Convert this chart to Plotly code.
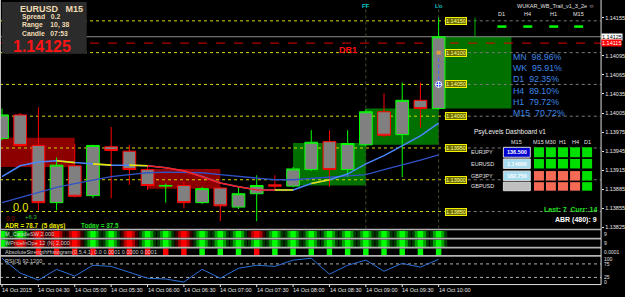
import plotly.graph_objects as go

W, H = 625, 297
CHART_R = 603                     # px, right edge of chart area
X_MIN, X_MAX = -0.1096, 32.93     # bar-index range shown
P_TOP, P_BOT = 1.141828, 1.138234 # price range of main pane

def px(x): return x / W
def py(y): return 1 - y / H

FONT = "Liberation Sans"

# ---------------- data ----------------
bars = list(range(25))  # M15 bars 04:00 .. 10:00
opens  = [1.13965, 1.14002, 1.13954, 1.13864, 1.13922, 1.13875, 1.13952, 1.13945, 1.13916, 1.13890,
          1.13891, 1.13864, 1.13887, 1.13857, 1.13878, 1.13892, 1.13890, 1.13916, 1.13960, 1.13916,
          1.13955, 1.14007, 1.13971, 1.14025, 1.14012]
highs  = [1.14012, 1.14005, 1.14014, 1.13935, 1.13956, 1.13955, 1.13983, 1.13955, 1.13922, 1.13894,
          1.13897, 1.13889, 1.13889, 1.13889, 1.13907, 1.13907, 1.13920, 1.13978, 1.13978, 1.13978,
          1.14011, 1.14036, 1.14053, 1.14053, 1.14155]
lows   = [1.13962, 1.13952, 1.13852, 1.13852, 1.13872, 1.13871, 1.13871, 1.13892, 1.13884, 1.13864,
          1.13855, 1.13862, 1.13835, 1.13854, 1.13835, 1.13885, 1.13888, 1.13914, 1.13889, 1.13904,
          1.13952, 1.13967, 1.13904, 1.13982, 1.14010]
closes = [1.14002, 1.13954, 1.13864, 1.13923, 1.13874, 1.13954, 1.13946, 1.13916, 1.13891, 1.13891,
          1.13864, 1.13886, 1.13859, 1.13878, 1.13891, 1.13890, 1.13917, 1.13959, 1.13916, 1.13957,
          1.14007, 1.13970, 1.14025, 1.14012, 1.14125]

fast_ma = [1.13905, 1.13922, 1.13928, 1.13930, 1.13927, 1.13925, 1.13923, 1.13923, 1.13922, 1.13919,
           1.13914, 1.13905, 1.13895, 1.13889, 1.13884, 1.13884, 1.13884, 1.13894, 1.13900, 1.13909,
           1.13925, 1.13938, 1.13953, 1.13969, 1.13989]
slow_ma = [1.13864, 1.13872, 1.13880, 1.13888, 1.13894, 1.13900, 1.13905, 1.13908, 1.13911, 1.13912,
           1.13912, 1.13911, 1.13908, 1.13905, 1.13902, 1.13900, 1.13900, 1.13902, 1.13903, 1.13905,
           1.13908, 1.13916, 1.13923, 1.13931, 1.13939]
red_seg = (8, 15)
yellow_segs = [(3, 4), (5, 6), (7, 8), (15, 16), (17, 18)]

rsi = [96, 41, 15, 55, 30, 70, 66, 44, 22, 19, 8, 55, 22, 59, 70, 66, 89, 96, 37, 70, 89, 48, 77, 63, 92.12]
rsi_levels = [75, 25]

candle_sw    = [1, 1, -1, -1, -1, 1, 1, -1, 1, 1, -1, 1, 1, 1, -1, 1, 1, 1, 1, 1, 1, 1, 1, 1, 1]
wprice       = [1, -1, -1, -1, -1, 1, 1, -1, 1, 1, -1, 1, 1, 1, 1, 1, 1, 1, 1, 1, 1, 1, 1, 1, 1]
abs_strength = [0, 0, -1, -1, -1, -1, -1, -1, -1, -1, -1, 1, 1, 1, -1, 1, 1, 1, 1, 1, 1, 1, 1, 1, 1]

level_prices = [1.14150, 1.14100, 1.14050, 1.14000, 1.13950, 1.13900, 1.13850]
price_ticks = [1.14155, 1.14095, 1.14065, 1.14035, 1.14005, 1.13975, 1.13945,
               1.13915, 1.13885, 1.13855, 1.13825]
bid_price = 1.14125
dr1_price = 1.14115
entry_price, stop_price = 1.14100, 1.14050

zone_start = [-1, 8, 16, 20, 24]
zone_end   = [4, 12, 20, 24, 28]
zone_low   = [1.13920, 1.13886, 1.13891, 1.13955, 1.14012]
zone_high  = [1.13966, 1.13917, 1.13958, 1.14012, 1.14125]
zone_kind  = ["sell", "sell", "buy", "buy", "buy"]

session_bars = [20, 24]
session_names = ["FF", "Lo"]

time_tick_bars = [0, 2, 4, 6, 8, 10, 12, 14, 16, 18, 20, 22, 24]
time_tick_labels = ["14 Oct 2015", "14 Oct 04:30", "14 Oct 05:00", "14 Oct 05:30", "14 Oct 06:00",
                    "14 Oct 06:30", "14 Oct 07:00", "14 Oct 07:30", "14 Oct 08:00", "14 Oct 08:30",
                    "14 Oct 09:00", "14 Oct 09:30", "14 Oct 10:00"]

tf_names = ["MN", "WK", "D1", "H4", "H1", "M15"]
tf_pct = [98.96, 95.91, 92.35, 89.10, 79.72, 70.72]

dash_pairs = ["EURJPY", "EURUSD", "GBPJPY", "GBPUSD"]
dash_prices = ["136.500", "1.14000", "182.750", ""]
dash_price_bg = ["#0000d0", "#a8dcf0", "#a8dcf0", "#c0c0c0"]
dash_cols = ["M15", "M30", "H1", "H4", "D1"]
dash_state = [[1, 1, 1, 1, 1], [1, 1, 1, 1, 1], [0, 0, 0, 0, 1], [0, 0, 0, 0, 1]]

# ---------------- figure ----------------
fig = go.Figure()

fig.add_trace(go.Candlestick(
    x=bars, open=opens, high=highs, low=lows, close=closes,
    increasing=dict(line=dict(color="#00ff00", width=1), fillcolor="#808080"),
    decreasing=dict(line=dict(color="#ff0000", width=1), fillcolor="#808080"),
    whiskerwidth=0, xaxis="x", yaxis="y", hoverinfo="skip"))

fig.add_trace(go.Scatter(x=bars, y=slow_ma, mode="lines", line=dict(color="#2f52c8", width=1.3),
                         xaxis="x", yaxis="y", hoverinfo="skip"))
fig.add_trace(go.Scatter(x=bars, y=fast_ma, mode="lines", line=dict(color="#4a86ff", width=1.5),
                         xaxis="x", yaxis="y", hoverinfo="skip"))
fig.add_trace(go.Scatter(x=bars, y=[v if red_seg[0] <= i <= red_seg[1] else None for i, v in enumerate(fast_ma)],
                         mode="lines", line=dict(color="#ff1a1a", width=1.6),
                         xaxis="x", yaxis="y", hoverinfo="skip"))
yx, yy = [], []
for a, b in yellow_segs:
    yx += [a, b, None]
    yy += [fast_ma[a], fast_ma[b], None]
fig.add_trace(go.Scatter(x=yx, y=yy, mode="lines", line=dict(color="#e6e600", width=1.6),
                         xaxis="x", yaxis="y", hoverinfo="skip"))

# trade marker on current bar
fig.add_trace(go.Scatter(x=[bars[-1], bars[-1]], y=[entry_price, stop_price], mode="lines",
                         line=dict(color="#4060ff", width=1, dash="dot"), xaxis="x", yaxis="y", hoverinfo="skip"))
fig.add_trace(go.Scatter(x=[bars[-1]], y=[stop_price], mode="markers",
                         marker=dict(symbol="circle-cross", size=6, color="#1030ff", line=dict(color="white", width=1)),
                         xaxis="x", yaxis="y", hoverinfo="skip"))
fig.add_trace(go.Scatter(x=[bars[-1]], y=[entry_price], mode="markers",
                         marker=dict(symbol="square", size=4, color="#e0a040"),
                         xaxis="x", yaxis="y", hoverinfo="skip"))

# indicator panes
def add_blocks(states, yax, layers):
    for width, gcol, rcol in layers:
        xs = [b for b, s in zip(bars, states) if s != 0]
        cols = [gcol if s > 0 else rcol for s in states if s != 0]
        fig.add_trace(go.Bar(x=xs, y=[1] * len(xs), width=width, marker=dict(color=cols, line=dict(width=0)),
                             xaxis="x", yaxis=yax, hoverinfo="skip"))

grad = [(0.95, "#003a00", "#3a0000"), (0.62, "#00a000", "#b00000"), (0.3, "#00ff00", "#ff0000")]
add_blocks(candle_sw, "y2", grad)
add_blocks(wprice, "y3", grad)
add_blocks(abs_strength, "y4", [(0.3, "#00ff00", "#ff0000")])

fig.add_trace(go.Scatter(x=bars, y=rsi, mode="lines", line=dict(color="#2b70d8", width=1),
                         xaxis="x", yaxis="y5", hoverinfo="skip"))

shapes = []
# zones
for x0, x1, lo, hi, k in zip(zone_start, zone_end, zone_low, zone_high, zone_kind):
    shapes.append(dict(type="rect", xref="x", yref="y", x0=x0, x1=x1, y0=lo, y1=hi,
                       fillcolor="#8c0000" if k == "sell" else "#007000", line=dict(width=0), layer="below"))
# levels
LBL_X0, LBL_X1 = 24.33, 25.6
for p in level_prices:
    shapes.append(dict(type="line", xref="x", yref="y", x0=X_MIN, x1=LBL_X0, y0=p, y1=p,
                       line=dict(color="#d8d800", width=1, dash="dot"), layer="below"))
    shapes.append(dict(type="line", xref="x", yref="y", x0=LBL_X1, x1=X_MAX, y0=p, y1=p,
                       line=dict(color="#7a7a7a", width=1, dash="dot"), layer="below"))
# bid & DR1
shapes.append(dict(type="line", xref="x", yref="y", x0=X_MIN, x1=X_MAX, y0=bid_price, y1=bid_price,
                   line=dict(color="#8c8c8c", width=1), layer="below"))
shapes.append(dict(type="line", xref="x", yref="y", x0=X_MIN, x1=X_MAX, y0=dr1_price, y1=dr1_price,
                   line=dict(color="#e00000", width=1, dash="dash"), layer="below"))
# session lines
for b in session_bars:
    shapes.append(dict(type="line", xref="x", yref="y", x0=b, x1=b, y0=P_BOT, y1=P_TOP,
                       line=dict(color="#4a4a2c", width=1, dash="dot"), layer="below"))
shapes.append(dict(type="line", xref="x", yref="y", x0=26, x1=26, y0=bid_price, y1=1.14155,
                   line=dict(color="#00b000", width=1), layer="below"))
# RSI levels
for lv in rsi_levels:
    shapes.append(dict(type="line", xref="x", yref="y5", x0=X_MIN, x1=X_MAX, y0=lv, y1=lv,
                       line=dict(color="#b0b0b0", width=1, dash="dot"), layer="below"))
# pane separators & frame
for yy_ in [231, 240.2, 249.3, 257.6]:
    shapes.append(dict(type="line", xref="paper", yref="paper", x0=0, x1=px(CHART_R), y0=py(yy_), y1=py(yy_),
                       line=dict(color="#b4b4b4", width=1.6)))
shapes.append(dict(type="line", xref="paper", yref="paper", x0=px(CHART_R), x1=px(CHART_R), y0=py(286.5), y1=1,
                   line=dict(color="#e0e0e0", width=1)))
shapes.append(dict(type="line", xref="paper", yref="paper", x0=px(0.5), x1=px(0.5), y0=py(286.5), y1=1,
                   line=dict(color="#c0c0c0", width=1)))
shapes.append(dict(type="line", xref="paper", yref="paper", x0=0, x1=px(CHART_R), y0=py(286.5), y1=py(286.5),
                   line=dict(color="#e0e0e0", width=1)))
for b in time_tick_bars:
    shapes.append(dict(type="line", xref="x", yref="paper", x0=b, x1=b, y0=py(289), y1=py(286.5),
                       line=dict(color="#e0e0e0", width=1)))
# info box
shapes.append(dict(type="rect", xref="paper", yref="paper", x0=px(2), x1=px(87), y0=py(54), y1=py(2),
                   fillcolor="#2b2b2b", line=dict(width=0)))
# top-right timeframe dashes
for x0 in [499, 525, 551, 576]:
    shapes.append(dict(type="rect", xref="paper", yref="paper", x0=px(x0), x1=px(x0 + 9), y0=py(28), y1=py(25.5),
                       fillcolor="#00ff00", line=dict(width=0)))
# dashboard cells
row_y = [(148.3, 158.3), (160, 169.6), (172.2, 181.8), (183.4, 192)]
col_x = [(535.7, 545.7), (547.7, 557.7), (559.8, 569.8), (571.9, 581.9), (584, 594)]
for r, (y0, y1) in enumerate(row_y):
    shapes.append(dict(type="rect", xref="paper", yref="paper", x0=px(505), x1=px(532), y0=py(y1), y1=py(y0),
                       fillcolor=dash_price_bg[r], line=dict(color="#d8d8d8", width=1)))
    for c, (x0, x1) in enumerate(col_x):
        shapes.append(dict(type="rect", xref="paper", yref="paper", x0=px(x0), x1=px(x1), y0=py(y1), y1=py(y0),
                           fillcolor="#00e000" if dash_state[r][c] else "#f46a55", line=dict(width=0)))

ann = []
def text(t, x, y, size=6, color="white", anchor="left", bold=False, xref="paper", **kw):
    ann.append(dict(text=f"<b>{t}</b>" if bold else t, x=px(x) if xref == "paper" else x, y=py(y),
                    xref=xref, yref="paper", xanchor=anchor, yanchor="middle", showarrow=False,
                    font=dict(family=FONT, size=size, color=color), borderpad=0, **kw))

# info panel
text("EURUSD&nbsp;&nbsp;&nbsp;M15", 19, 9, 9, "#f0dcb4", bold=True)
text("Spread&nbsp;&nbsp;&nbsp;0.2", 21, 17.5, 6.8, "#f0dcb4", bold=True)
text("Range&nbsp;&nbsp;&nbsp;&nbsp;10, 38", 21, 25.4, 6.8, "#f0dcb4", bold=True)
text("Candle&nbsp;&nbsp;&nbsp;07:53", 21, 33.3, 6.8, "#f0dcb4", bold=True)
text(f"{closes[-1]:.5f}", 12, 46.5, 16, "#ff1414", bold=True)

# top-right
text("WUKAR_WB_Trail_v1_3_2e ☺", 597, 6, 5.5, "#e0e0e0", anchor="right")
for t, x in zip(["D1", "H4", "H1", "M15"], [503.5, 529.5, 555, 580.5]):
    text(t, x, 14.5, 5.5, "#e0e0e0", anchor="center")
for b, n in zip(session_bars, session_names):
    text(n, b, 6, 6, "#00c8d0", anchor="center", bold=True, xref="x")

text("DR1", 339, 50.5, 9, "#ff1010", bold=True)

# level labels
for p in level_prices:
    ann.append(dict(text=f"{p:.5f}", x=LBL_X0, y=p, xref="x", yref="y", xanchor="left", yanchor="middle",
                    showarrow=False, bgcolor="#6e6e00", bordercolor="#f0f000", borderwidth=1, borderpad=0,
                    font=dict(family=FONT, size=5.5, color="#ffff90")))
# axis price boxes
ann.append(dict(text=f"{bid_price:.5f}", x=px(CHART_R), y=bid_price, xref="paper", yref="y", xanchor="left",
                yanchor="middle", showarrow=False, bgcolor="#ffffff", borderpad=0,
                font=dict(family=FONT, size=5.5, color="black")))
ann.append(dict(text=f"{dr1_price:.5f}", x=px(CHART_R), y=dr1_price, xref="paper", yref="y", xanchor="left",
                yanchor="middle", showarrow=False, bgcolor="#ff0000", borderpad=0,
                font=dict(family=FONT, size=5.5, color="white")))

# strength percentages
for i, (n, v) in enumerate(zip(tf_names, tf_pct)):
    text(f"{n}&nbsp;&nbsp;{v:.2f}%", 514, 57.3 + i * 11.3, 8.8, "#3d87e6")

# dashboard
text("PsyLevels Dashboard v1", 475, 133, 6.5, "#f0f0f0")
text("M15", 518.5, 143, 5.5, "#e0e0e0", anchor="center")
for c, name in enumerate(dash_cols):
    text(name, (col_x[c][0] + col_x[c][1]) / 2, 143, 5.5, "#e0e0e0", anchor="center")
for r, (pair, pr) in enumerate(zip(dash_pairs, dash_prices)):
    yc = (row_y[r][0] + row_y[r][1]) / 2
    text(pair, 472, yc, 5.5, "#e0e0e0")
    if pr:
        text(pr, 518.5, yc, 5.5, "white", anchor="center", bold=True)
text("Last: 7  Curr: 14", 600, 211, 7, "#20e020", anchor="right", bold=True)
text("ABR (480): 9", 600, 221.5, 7, "white", anchor="right", bold=True)

# lower-left texts
text("0.0", 12, 208, 11, "#e8e800")
text("0.0", 5, 219.8, 6.3, "#a00000")
text("+6.3", 24, 218, 6, "#30c030")
text("ADR = 78.7&nbsp;&nbsp;(5 days)", 4, 228, 6.3, "#e8e800", bold=True)
text("Today = 37.5", 80, 228, 6.3, "#20e020", bold=True)

# pane labels
text("M_CandleSW 2.000", 4, 236, 5.5, "#d0d0d0")
text("WPriceInOpe 12 (N) 2.000", 4, 245, 5.5, "#d0d0d0")
text("AbsoluteStrengthHistogram(0,5,4,1) 0.0 0.0001 0.0000 0.0001", 4, 253.3, 5.5, "#d0d0d0")
text(f"RSI(3) {rsi[-1]:.4f}", 4, 262.5, 5.5, "#d0d0d0")
for t, y in [("9", 236), ("9", 245), ("0.0001", 253.3), ("100", 260.5), ("75", 265.5), ("25", 278.5), ("0", 283.5)]:
    text(t, 605, y, 5, "#e0e0e0")

# time axis labels
for b, t in zip(time_tick_bars, time_tick_labels):
    text(t, b - 0.05, 291.5, 5.5, "#e8e8e8", xref="x")

fig.update_layout(
    width=W, height=H, margin=dict(l=0, r=0, t=0, b=0),
    paper_bgcolor="black", plot_bgcolor="black", showlegend=False,
    barmode="overlay", boxgap=0.0,
    xaxis=dict(domain=[0, px(CHART_R)], range=[X_MIN, X_MAX], showgrid=False, zeroline=False,
               showticklabels=False, rangeslider=dict(visible=False), anchor="y5", showline=False),
    yaxis=dict(domain=[py(230), 1], range=[P_BOT, P_TOP], side="right", anchor="free", position=px(CHART_R),
               tickvals=price_ticks, ticktext=[f"{v:.5f}" for v in price_ticks],
               tickfont=dict(family=FONT, size=5.5, color="#e8e8e8"), ticks="outside", ticklen=2,
               tickcolor="#e0e0e0", showgrid=False, zeroline=False, showline=False),
    yaxis2=dict(domain=[py(239.4), py(232.2)], range=[0, 1], visible=False, anchor="x"),
    yaxis3=dict(domain=[py(248.6), py(241)], range=[0, 1], visible=False, anchor="x"),
    yaxis4=dict(domain=[py(256.7), py(250)], range=[0, 1], visible=False, anchor="x"),
    yaxis5=dict(domain=[py(286.1), py(258.5)], range=[0, 101.5], visible=False, anchor="x"),
    shapes=shapes, annotations=ann,
)

fig.write_html("out.html")
